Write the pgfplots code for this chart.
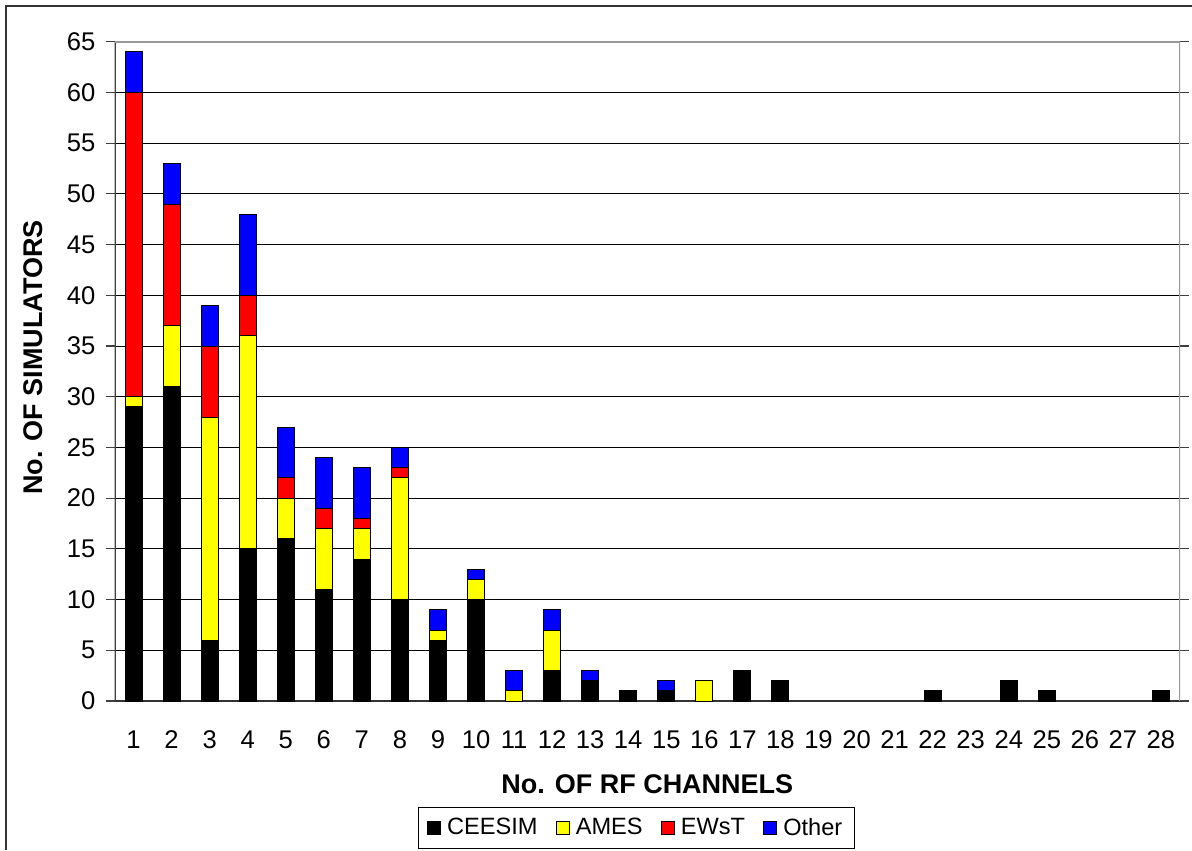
\documentclass[border=0pt]{standalone}
\usepackage{fontspec}
\setmainfont{Liberation Sans}
\usepackage{pgfplots}
\pgfplotsset{compat=1.18}
\definecolor{cyel}{RGB}{255,255,0}
\definecolor{cred}{RGB}{255,0,0}
\definecolor{cblue}{RGB}{0,0,255}
\begin{document}
\begin{tikzpicture}
\useasboundingbox (0,0) rectangle (596pt,-425pt);
\draw[line width=1pt, black!80] (2.85pt,-425pt) -- (2.85pt,-3pt) -- (596pt,-3pt);
\begin{axis}[
  at={(57.25pt,-350.5pt)}, anchor=south west,
  scale only axis, width=532.75pt, height=329.65pt,
  ybar stacked, bar width=8.5pt,
  xmin=0.5, xmax=28.5, ymin=0, ymax=65,
  xtick={1,...,28}, ytick={0,5,...,65},
  axis line style={draw=none},
  xtick style={draw=none},
  ytick style={draw=black!75, line width=0.6pt},
  tick align=outside, major tick length=4.5pt,
  ymajorgrids, grid style={black, line width=0.5pt},
  /pgf/number format/assume math mode=true,
  tick label style={font=\fontsize{12.8}{15}\selectfont},
  yticklabel style={anchor=east, xshift=-1.5pt},
  xticklabel style={yshift=-7pt},
  xlabel={No. OF RF CHANNELS},
  ylabel={No. OF SIMULATORS},
  label style={font=\fontsize{13.5}{16}\selectfont\bfseries},
  xlabel style={at={(axis description cs:0.5,-0.1266)}, anchor=center},
  ylabel style={at={(axis description cs:-0.0762,0.521)}, anchor=center, rotate=0},
  legend columns=4,
  legend style={at={(axis description cs:0.49,-0.1926)}, anchor=center,
    draw=black, line width=0.5pt, font=\fontsize{11.8}{13.5}\selectfont,
    inner xsep=4pt, inner ysep=3pt,
    /tikz/every odd column/.append style={column sep=1pt},
    /tikz/every even column/.append style={column sep=7pt}},
  legend image code/.code={\draw[#1, draw=black, line width=0.5pt] (0pt,-3.3pt) rectangle (6.6pt,3.3pt);},
  every axis plot/.append style={draw=black, line width=0.5pt},
]
\addplot[fill=black] coordinates {(1,29) (2,31) (3,6) (4,15) (5,16) (6,11) (7,14) (8,10) (9,6) (10,10) (11,0) (12,3) (13,2) (14,1) (15,1) (16,0) (17,3) (18,2) (19,0) (20,0) (21,0) (22,1) (23,0) (24,2) (25,1) (26,0) (27,0) (28,1)};
\addplot[fill=cyel] coordinates {(1,1) (2,6) (3,22) (4,21) (5,4) (6,6) (7,3) (8,12) (9,1) (10,2) (11,1) (12,4) (13,0) (14,0) (15,0) (16,2) (17,0) (18,0) (19,0) (20,0) (21,0) (22,0) (23,0) (24,0) (25,0) (26,0) (27,0) (28,0)};
\addplot[fill=cred] coordinates {(1,30) (2,12) (3,7) (4,4) (5,2) (6,2) (7,1) (8,1) (9,0) (10,0) (11,0) (12,0) (13,0) (14,0) (15,0) (16,0) (17,0) (18,0) (19,0) (20,0) (21,0) (22,0) (23,0) (24,0) (25,0) (26,0) (27,0) (28,0)};
\addplot[fill=cblue] coordinates {(1,4) (2,4) (3,4) (4,8) (5,5) (6,5) (7,5) (8,2) (9,2) (10,1) (11,2) (12,2) (13,1) (14,0) (15,1) (16,0) (17,0) (18,0) (19,0) (20,0) (21,0) (22,0) (23,0) (24,0) (25,0) (26,0) (27,0) (28,0)};
\legend{CEESIM, AMES, EWsT, Other}
\draw[black!40, line width=1pt] (rel axis cs:0,1) -- (rel axis cs:1,1) -- (rel axis cs:1,0);
\draw[black!75, line width=1pt] (rel axis cs:0,0) -- (rel axis cs:0,1);
\draw[black!80, line width=0.6pt] (rel axis cs:0,0) -- (rel axis cs:1,0);
\pgfplotsinvokeforeach{0.5,1.5,...,28.5}{\draw[black!80, line width=0.6pt] (axis cs:#1,0) -- ++(0,-4.5pt);}
\end{axis}
\end{tikzpicture}
\end{document}
